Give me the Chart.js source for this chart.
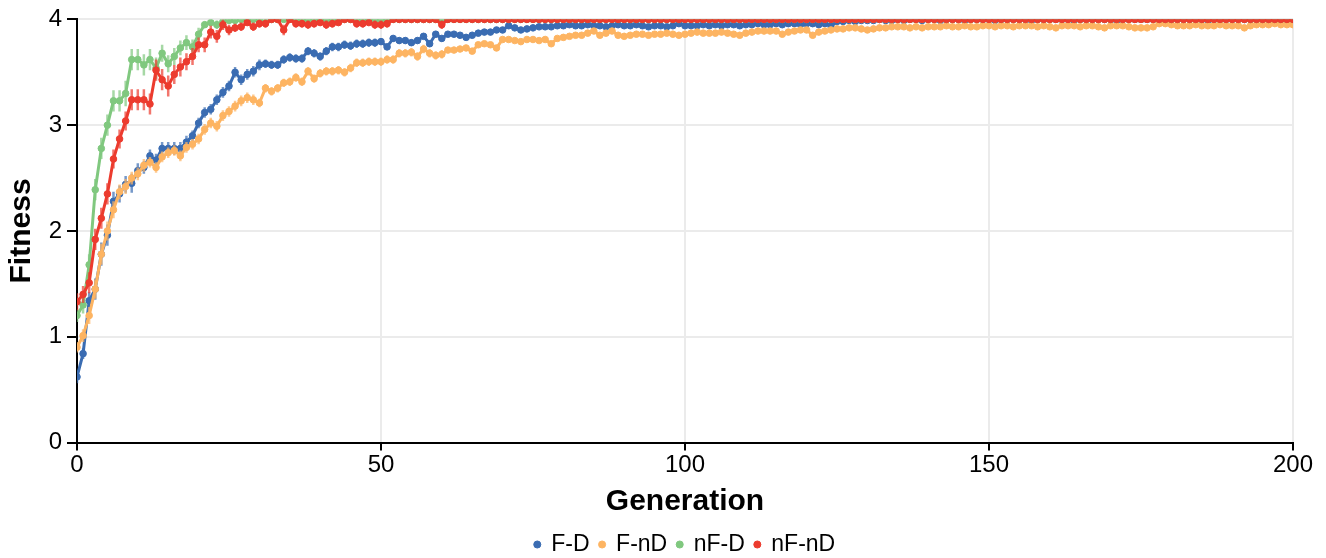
<!DOCTYPE html>
<html>

<head>
    <title>Fitness per Generation</title>
    <meta name="viewport" content="width=device-width, initial-scale=1.0" />
    <style>
        html, body { margin: 0; padding: 0; background: #fff; }
        #wrap { width: 1326px; height: 558px; }
    </style>
</head>

<body>
    <div id="wrap">
        <canvas id="myChart"></canvas>
    </div>
    <script src="https://cdn.jsdelivr.net/npm/chart.js"></script>
    <script>
        // generation index 0..200
        const generations = Array.from({ length: 201 }, (_, i) => i);
        const yTicks = [0, 1, 2, 3, 4];
        const xTicks = [0, 50, 100, 150, 200];

        // mean fitness per generation
        const fdMean = [
            0.62, 0.84, 1.34, 1.45, 1.78, 1.96, 2.28, 2.35, 2.44, 2.45,
            2.57, 2.60, 2.71, 2.67, 2.78, 2.78, 2.78, 2.78, 2.84, 2.90,
            3.02, 3.12, 3.15, 3.24, 3.31, 3.37, 3.50, 3.43, 3.48, 3.51,
            3.57, 3.58, 3.57, 3.57, 3.62, 3.64, 3.63, 3.63, 3.70, 3.68,
            3.65, 3.70, 3.74, 3.74, 3.76, 3.75, 3.77, 3.77, 3.78, 3.78,
            3.79, 3.74, 3.82, 3.80, 3.80, 3.78, 3.80, 3.84, 3.77, 3.86,
            3.82, 3.86, 3.86, 3.85, 3.83, 3.85, 3.87, 3.88, 3.88, 3.90,
            3.90, 3.94, 3.92, 3.90, 3.91, 3.92, 3.93, 3.93, 3.93, 3.94,
            3.94, 3.95, 3.94, 3.94, 3.95, 3.94, 3.94, 3.93, 3.94, 3.95,
            3.94, 3.94, 3.95, 3.94, 3.93, 3.94, 3.94, 3.93, 3.94, 3.96,
            3.94, 3.94, 3.94, 3.95, 3.94, 3.95, 3.94, 3.95, 3.95, 3.94,
            3.95, 3.95, 3.96, 3.95, 3.95, 3.96, 3.95, 3.96, 3.96, 3.95,
            3.96, 3.96, 3.95, 3.96, 3.94, 3.98, 3.98, 3.99, 3.98, 3.99,
            3.99, 3.99, 4.00, 3.99, 3.99, 4.00, 3.99, 4.00, 4.00, 3.99,
            4.00, 4.00, 3.99, 4.00, 4.00, 4.00, 3.99, 4.00, 4.00, 4.00,
            4.00, 3.99, 4.00, 4.00, 4.00, 4.00, 4.00, 3.99, 4.00, 4.00,
            4.00, 4.00, 4.00, 4.00, 3.99, 4.00, 4.00, 4.00, 4.00, 4.00,
            4.00, 3.99, 4.00, 4.00, 4.00, 4.00, 4.00, 4.00, 4.00, 3.99,
            4.00, 4.00, 4.00, 4.00, 4.00, 4.00, 3.99, 4.00, 4.00, 4.00,
            4.00, 4.00, 4.00, 4.00, 4.00, 4.00, 4.00, 4.00, 4.00, 4.00,
            4.00
        ];
        const fndMean = [
            0.90, 1.01, 1.20, 1.45, 1.78, 2.00, 2.20, 2.37, 2.42, 2.50,
            2.54, 2.62, 2.65, 2.60, 2.70, 2.74, 2.76, 2.71, 2.79, 2.82,
            2.87, 2.96, 3.02, 2.99, 3.09, 3.13, 3.18, 3.23, 3.26, 3.24,
            3.21, 3.35, 3.32, 3.35, 3.40, 3.41, 3.45, 3.41, 3.51, 3.44,
            3.49, 3.51, 3.51, 3.52, 3.50, 3.54, 3.59, 3.59, 3.60, 3.60,
            3.60, 3.62, 3.62, 3.68, 3.68, 3.69, 3.65, 3.72, 3.68, 3.66,
            3.67, 3.71, 3.71, 3.72, 3.73, 3.70, 3.76, 3.77, 3.76, 3.73,
            3.81, 3.81, 3.80, 3.79, 3.81, 3.81, 3.80, 3.81, 3.77, 3.82,
            3.83, 3.84, 3.85, 3.85, 3.87, 3.89, 3.85, 3.87, 3.89, 3.85,
            3.84, 3.85, 3.86, 3.86, 3.85, 3.86, 3.86, 3.87, 3.86, 3.85,
            3.86, 3.87, 3.88, 3.87, 3.87, 3.87, 3.88, 3.87, 3.86, 3.85,
            3.87, 3.88, 3.89, 3.89, 3.89, 3.89, 3.86, 3.88, 3.89, 3.90,
            3.90, 3.85, 3.88, 3.89, 3.90, 3.91, 3.91, 3.92, 3.92, 3.91,
            3.90, 3.91, 3.92, 3.92, 3.93, 3.93, 3.93, 3.92, 3.93, 3.92,
            3.93, 3.93, 3.93, 3.94, 3.93, 3.93, 3.94, 3.93, 3.93, 3.94,
            3.94, 3.93, 3.94, 3.94, 3.93, 3.94, 3.94, 3.94, 3.93, 3.94,
            3.93, 3.92, 3.94, 3.94, 3.94, 3.93, 3.94, 3.94, 3.93, 3.92,
            3.94, 3.94, 3.94, 3.93, 3.92, 3.92, 3.92, 3.93, 3.96, 3.96,
            3.95, 3.94, 3.94, 3.94, 3.95, 3.94, 3.94, 3.94, 3.95, 3.94,
            3.94, 3.94, 3.92, 3.94, 3.95, 3.95, 3.95, 3.96, 3.95, 3.95,
            3.95
        ];
        const nfdMean = [
            1.20, 1.30, 1.68, 2.39, 2.78, 3.00, 3.23, 3.23, 3.30, 3.62,
            3.62, 3.57, 3.62, 3.54, 3.68, 3.58, 3.65, 3.73, 3.78, 3.74,
            3.86, 3.95, 3.97, 3.95, 3.98, 3.99, 3.99, 4.00, 4.00, 4.00,
            4.00, 3.97, 4.00, 4.00, 4.00, 4.00, 4.00, 4.00, 4.00, 4.00,
            4.00, 4.00, 4.00, 4.00, 4.00, 4.00, 4.00, 4.00, 4.00, 4.00,
            4.00, 4.00, 4.00, 4.00, 4.00, 4.00, 4.00, 4.00, 4.00, 4.00,
            4.00, 4.00, 4.00, 4.00, 4.00, 4.00, 4.00, 4.00, 4.00, 4.00,
            4.00, 4.00, 4.00, 4.00, 4.00, 4.00, 4.00, 4.00, 4.00, 4.00,
            4.00, 4.00, 4.00, 4.00, 4.00, 4.00, 4.00, 4.00, 4.00, 4.00,
            4.00, 4.00, 4.00, 4.00, 4.00, 4.00, 4.00, 4.00, 4.00, 4.00,
            4.00, 4.00, 4.00, 4.00, 4.00, 4.00, 4.00, 4.00, 4.00, 4.00,
            4.00, 4.00, 4.00, 4.00, 4.00, 4.00, 4.00, 4.00, 4.00, 4.00,
            4.00, 4.00, 4.00, 4.00, 4.00, 4.00, 4.00, 4.00, 4.00, 4.00,
            4.00, 4.00, 4.00, 4.00, 4.00, 4.00, 4.00, 4.00, 4.00, 4.00,
            4.00, 4.00, 4.00, 4.00, 4.00, 4.00, 4.00, 4.00, 4.00, 4.00,
            4.00, 4.00, 4.00, 4.00, 4.00, 4.00, 4.00, 4.00, 4.00, 4.00,
            4.00, 4.00, 4.00, 4.00, 4.00, 4.00, 4.00, 4.00, 4.00, 4.00,
            4.00, 4.00, 4.00, 4.00, 4.00, 4.00, 4.00, 4.00, 4.00, 4.00,
            4.00, 4.00, 4.00, 4.00, 4.00, 4.00, 4.00, 4.00, 4.00, 4.00,
            4.00, 4.00, 4.00, 4.00, 4.00, 4.00, 4.00, 4.00, 4.00, 4.00,
            4.00
        ];
        const nfndMean = [
            1.33, 1.40, 1.51, 1.92, 2.12, 2.35, 2.68, 2.87, 3.04, 3.24,
            3.24, 3.24, 3.20, 3.52, 3.43, 3.37, 3.48, 3.55, 3.60, 3.65,
            3.76, 3.76, 3.88, 3.84, 3.95, 3.90, 3.92, 3.93, 3.97, 3.93,
            3.96, 3.96, 4.00, 4.00, 3.90, 4.00, 3.96, 3.96, 3.95, 3.96,
            3.97, 3.95, 3.96, 3.97, 4.00, 4.00, 3.96, 3.96, 3.97, 3.95,
            3.95, 3.96, 4.00, 4.00, 4.00, 4.00, 4.00, 4.00, 4.00, 4.00,
            3.95, 4.00, 4.00, 4.00, 4.00, 4.00, 4.00, 4.00, 4.00, 4.00,
            4.00, 4.00, 4.00, 4.00, 4.00, 4.00, 4.00, 4.00, 4.00, 4.00,
            4.00, 4.00, 4.00, 4.00, 4.00, 4.00, 4.00, 4.00, 4.00, 4.00,
            4.00, 4.00, 4.00, 4.00, 4.00, 4.00, 4.00, 4.00, 4.00, 4.00,
            4.00, 4.00, 4.00, 4.00, 4.00, 4.00, 4.00, 4.00, 4.00, 4.00,
            4.00, 4.00, 4.00, 4.00, 4.00, 4.00, 4.00, 4.00, 4.00, 4.00,
            4.00, 4.00, 4.00, 4.00, 4.00, 4.00, 4.00, 4.00, 4.00, 4.00,
            4.00, 4.00, 4.00, 4.00, 4.00, 4.00, 4.00, 4.00, 4.00, 4.00,
            4.00, 4.00, 4.00, 4.00, 4.00, 4.00, 4.00, 4.00, 4.00, 4.00,
            4.00, 4.00, 4.00, 4.00, 4.00, 4.00, 4.00, 4.00, 4.00, 4.00,
            4.00, 4.00, 4.00, 4.00, 4.00, 4.00, 4.00, 4.00, 4.00, 4.00,
            4.00, 4.00, 4.00, 4.00, 4.00, 4.00, 4.00, 4.00, 4.00, 4.00,
            4.00, 4.00, 4.00, 4.00, 4.00, 4.00, 4.00, 4.00, 4.00, 4.00,
            4.00, 4.00, 4.00, 4.00, 4.00, 4.00, 4.00, 4.00, 4.00, 4.00,
            4.00
        ];

        // standard error, early generations (later ones hide under the dots)
        const fdErr = [
            0.06, 0.05, 0.08, 0.10, 0.11, 0.10, 0.09, 0.08, 0.08, 0.09,
            0.07, 0.06, 0.06, 0.06, 0.06, 0.06, 0.06, 0.06, 0.06, 0.05,
            0.05, 0.05, 0.05, 0.05, 0.05, 0.05, 0.05, 0.05, 0.05, 0.05,
            0.05, 0.04, 0.04, 0.04, 0.04, 0.04, 0.04, 0.04, 0.04, 0.04,
            0.04, 0.04, 0.04, 0.04, 0.04, 0.04, 0.04, 0.04, 0.04, 0.04,
            0.03, 0.03, 0.03, 0.03, 0.03, 0.03, 0.03, 0.03, 0.03, 0.03,
            0.03
        ];
        const fndErr = [
            0.05, 0.06, 0.08, 0.09, 0.10, 0.09, 0.08, 0.07, 0.07, 0.06,
            0.06, 0.06, 0.05, 0.05, 0.05, 0.05, 0.05, 0.05, 0.05, 0.05,
            0.05, 0.05, 0.05, 0.05, 0.05, 0.05, 0.05, 0.05, 0.05, 0.05,
            0.04, 0.04, 0.04, 0.04, 0.04, 0.04, 0.04, 0.04, 0.04, 0.04,
            0.04, 0.04, 0.04, 0.04, 0.04, 0.04, 0.04, 0.04, 0.04, 0.04,
            0.04, 0.04, 0.04, 0.04, 0.04, 0.04, 0.04, 0.04, 0.04, 0.04,
            0.04
        ];
        const nfdErr = [
            0.06, 0.08, 0.10, 0.10, 0.10, 0.10, 0.10, 0.10, 0.12, 0.10,
            0.10, 0.10, 0.10, 0.10, 0.08, 0.08, 0.08, 0.07, 0.07, 0.07,
            0.06, 0.03, 0.03, 0.04, 0.02, 0.01, 0.01, 0.00, 0.00, 0.00,
            0.00, 0.03
        ];
        const nfndErr = [
            0.08, 0.08, 0.10, 0.10, 0.10, 0.10, 0.09, 0.09, 0.09, 0.10,
            0.10, 0.10, 0.10, 0.10, 0.10, 0.10, 0.09, 0.09, 0.08, 0.08,
            0.07, 0.07, 0.06, 0.06, 0.05, 0.05, 0.04, 0.04, 0.03, 0.04,
            0.04, 0.04, 0.00, 0.00, 0.05, 0.00, 0.04, 0.04, 0.04, 0.04,
            0.03, 0.04, 0.04, 0.03, 0.00, 0.00, 0.04, 0.04, 0.03, 0.04,
            0.04, 0.04, 0.00, 0.00, 0.00, 0.00, 0.00, 0.00, 0.00, 0.00,
            0.04
        ];

        const seriesNames = ['F-D', 'F-nD', 'nF-D', 'nF-nD'];
        const seriesColors = ['#3a6cb2', '#fdb462', '#80c87f', '#ec3b2e'];
        const barColors = ['rgba(58,108,178,0.7)', 'rgba(253,180,98,0.7)', 'rgba(128,200,127,0.7)', 'rgba(236,59,46,0.7)'];
        const means = [fdMean, fndMean, nfdMean, nfndMean];
        const errs = [fdErr, fndErr, nfdErr, nfndErr];

        const FONT = "'Liberation Sans', Arial, sans-serif";

        // vertical error bars, drawn under each series' own line and dots
        const errorBars = {
            id: 'errorBars',
            beforeDatasetDraw(chart, args) {
                const ds = chart.data.datasets[args.index];
                if (!ds.errors) return;
                const { ctx, chartArea, scales: { y } } = chart;
                ctx.save();
                ctx.beginPath();
                ctx.rect(chartArea.left, chartArea.top, chartArea.width, chartArea.height);
                ctx.clip();
                ctx.strokeStyle = ds.barColor;
                ctx.lineWidth = 2.5;
                args.meta.data.forEach((pt, i) => {
                    const e = ds.errors[i];
                    if (!e) return;
                    const v = ds.data[i];
                    ctx.beginPath();
                    ctx.moveTo(pt.x, y.getPixelForValue(v - e));
                    ctx.lineTo(pt.x, y.getPixelForValue(v + e));
                    ctx.stroke();
                });
                ctx.restore();
            }
        };

        const datasets = seriesNames.map((name, k) => ({
            label: name,
            data: means[k],
            errors: errs[k],
            barColor: barColors[k],
            borderColor: seriesColors[k],
            backgroundColor: seriesColors[k],
            pointBackgroundColor: seriesColors[k],
            pointBorderColor: seriesColors[k],
            borderWidth: 3,
            pointRadius: 3.3,
            pointBorderWidth: 1,
            pointHoverRadius: 3.3,
            tension: 0,
            clip: 0,
            order: 4 - k   // red drawn on top
        }));

        const config = {
            type: 'line',
            data: { labels: generations, datasets: datasets },
            options: {
                responsive: true,
                maintainAspectRatio: false,
                animation: false,
                events: [],
                layout: { padding: { top: 16, right: 33, left: 0, bottom: -8 } },
                plugins: {
                    legend: {
                        position: 'bottom',
                        fullSize: false,   // centred under the plot area
                        labels: {
                            usePointStyle: true,
                            pointStyle: 'circle',
                            boxWidth: 5,
                            boxHeight: 5,
                            padding: 10,
                            color: '#000',
                            font: { family: FONT, size: 23 },
                            sort: (a, b) => a.datasetIndex - b.datasetIndex
                        }
                    },
                    tooltip: { enabled: false }
                },
                scales: {
                    x: {
                        type: 'linear',
                        min: 0,
                        max: 200,
                        afterBuildTicks: (s) => { s.ticks = xTicks.map(v => ({ value: v })); },
                        afterFit: (s) => { s.height = 80.5; },
                        grid: { color: '#ebebeb', lineWidth: 2, tickColor: '#000', tickWidth: 2, tickLength: 8 },
                        border: { color: '#000', width: 2 },
                        ticks: { color: '#000', padding: 0, maxRotation: 0, font: { family: FONT, size: 24 } },
                        title: {
                            display: true,
                            text: 'Generation',
                            color: '#000',
                            padding: { top: 0, bottom: 3 },
                            font: { family: FONT, size: 30, weight: 'bold' }
                        }
                    },
                    y: {
                        min: 0,
                        max: 4,
                        afterBuildTicks: (s) => { s.ticks = yTicks.map(v => ({ value: v })); },
                        afterFit: (s) => { s.width = 77; },
                        grid: { color: '#ebebeb', lineWidth: 2, tickColor: '#000', tickWidth: 2, tickLength: 10 },
                        border: { color: '#000', width: 2 },
                        ticks: { color: '#000', padding: 5, font: { family: FONT, size: 24 } },
                        title: {
                            display: true,
                            text: 'Fitness',
                            color: '#000',
                            padding: { top: 4, bottom: 0 },
                            font: { family: FONT, size: 30, weight: 'bold' }
                        }
                    }
                }
            },
            plugins: [errorBars]
        };

        var myChart = new Chart(document.getElementById('myChart'), config);
    </script>
</body>

</html>
